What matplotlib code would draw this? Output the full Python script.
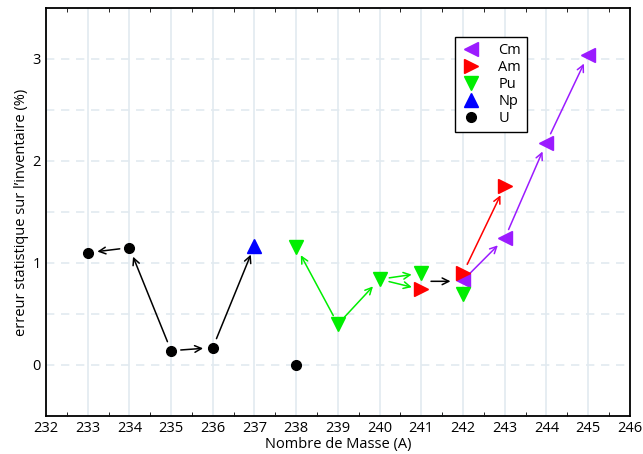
import matplotlib
matplotlib.use("Agg")
import matplotlib.pyplot as plt
from matplotlib.ticker import MultipleLocator

plt.rcParams["font.family"] = ["Open Sans", "DejaVu Sans"]

# -----------------------------
# Data (mass number -> statistical error in %)
# -----------------------------
u_mass = [233, 234, 235, 236, 238]
u_err = [1.10, 1.15, 0.14, 0.17, 0.00]

np_mass = [237]
np_err = [1.17]

pu_mass = [238, 239, 240, 241, 242]
pu_err = [1.16, 0.40, 0.84, 0.90, 0.70]

am_mass = [241, 242, 243]
am_err = [0.74, 0.90, 1.75]

cm_mass = [242, 243, 244, 245]
cm_err = [0.83, 1.24, 2.18, 3.04]

series = {
    "U": (u_mass, u_err),
    "Np": (np_mass, np_err),
    "Pu": (pu_mass, pu_err),
    "Am": (am_mass, am_err),
    "Cm": (cm_mass, cm_err),
}

# decay-chain arrows: (from element, mass) -> (to element, mass)
arrows = [
    (("U", 234), ("U", 233), "black"),
    (("U", 235), ("U", 234), "black"),
    (("U", 235), ("U", 236), "black"),
    (("U", 236), ("Np", 237), "black"),
    (("Pu", 239), ("Pu", 238), "#00ee00"),
    (("Pu", 239), ("Pu", 240), "#00ee00"),
    (("Pu", 240), ("Pu", 241), "#00ee00"),
    (("Pu", 240), ("Am", 241), "#00ee00"),
    (("Am", 242), ("Am", 243), "red"),
    (("Cm", 242), ("Cm", 243), "#9b1bff"),
    (("Cm", 243), ("Cm", 244), "#9b1bff"),
    (("Cm", 244), ("Cm", 245), "#9b1bff"),
]


def value(elem, mass):
    m, e = series[elem]
    return mass, e[m.index(mass)]


fig = plt.figure(figsize=(6.43, 4.54), dpi=100)
ax = fig.add_axes([0.0715, 0.0837, 0.908, 0.899])

ax.plot(cm_mass, cm_err, ls="none", marker="<", ms=10, color="#9b1bff", label="Cm", zorder=4)
ax.plot(am_mass, am_err, ls="none", marker=">", ms=10, color="#ff0000", label="Am", zorder=4)
ax.plot(pu_mass, pu_err, ls="none", marker="v", ms=10, color="#00ee00", label="Pu", zorder=4)
ax.plot(np_mass, np_err, ls="none", marker="^", ms=10, color="#0000ff", label="Np", zorder=4)
ax.plot(u_mass, u_err, ls="none", marker="o", ms=7, color="black", label="U", zorder=4)

for src, dst, col in arrows:
    ax.annotate("", xy=value(*dst), xytext=value(*src),
                arrowprops=dict(arrowstyle="->", color=col, lw=1.1,
                                shrinkA=7, shrinkB=7, mutation_scale=12), zorder=3)

# short black arrow between Am241 and Cm242
ax.annotate("", xy=(242, 0.82), xytext=(241, 0.82),
            arrowprops=dict(arrowstyle="->", color="black", lw=1.1,
                            shrinkA=7, shrinkB=9, mutation_scale=12), zorder=3)

ax.set_xlim(232, 246)
ax.set_ylim(-0.5, 3.5)
ax.xaxis.set_major_locator(MultipleLocator(1))
ax.xaxis.set_minor_locator(MultipleLocator(0.5))
ax.yaxis.set_major_locator(MultipleLocator(1))
ax.yaxis.set_minor_locator(MultipleLocator(0.5))
ax.tick_params(which="both", direction="in", top=True, right=False, labelsize=10.5)
ax.tick_params(which="major", length=0)
ax.tick_params(which="minor", length=3, left=False)

ax.grid(True, axis="x", which="major", color="#e2eaf0", lw=1.2, ls="-")
ax.grid(True, axis="y", which="both", color="#e2eaf0", lw=1.2, ls=(0, (5, 4)))
ax.set_axisbelow(True)

for s in ax.spines.values():
    s.set_linewidth(1.3)

ax.set_xlabel("Nombre de Masse (A)", fontsize=10.5, labelpad=1)
ax.set_ylabel("erreur statistique sur l\u2019inventaire (%)", fontsize=10.5, labelpad=3)

leg = ax.legend(loc="upper left", bbox_to_anchor=(0.70, 0.929), fontsize=10.5,
                fancybox=False, edgecolor="black", framealpha=1,
                handlelength=1.4, handletextpad=1.2, labelspacing=0.15,
                borderpad=0.4, borderaxespad=0)
leg.get_frame().set_linewidth(1.0)

plt.savefig("out.png", dpi=100)
